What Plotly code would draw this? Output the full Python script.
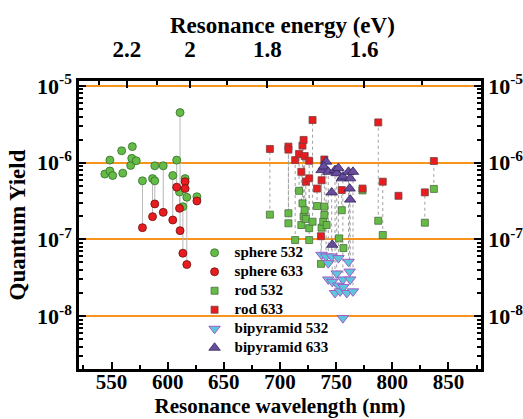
import plotly.graph_objects as go

# ---------------- data ----------------
# each particle: resonance wavelength (nm), QY at 532 nm, QY at 633 nm (None = not measured)
sphere_wl = [544, 548.5, 548.5, 551, 559, 560, 567, 568, 568.5, 572, 577.5, 586.5, 588.5, 588.5,
             596, 604.5, 608, 611, 610.5, 613.5, 615.5, 617, 626, 615.5]
sphere_532 = [7.1e-7, 1.08e-6, 7.8e-7, 6.8e-7, 1.43e-6, 7.3e-7, 9.2e-7, 1.14e-6, 1.62e-6, 1.06e-6,
              5.8e-7, 6.2e-7, 5.8e-7, 9.1e-7, 9.1e-7, 6.8e-7, 1.08e-6, 4.5e-6, 4.15e-7, 2.67e-7,
              6.2e-7, 3.54e-7, 3.6e-7, None]
sphere_633 = [None, None, None, None, None, None, None, None, None, None,
              1.42e-7, 1.98e-7, 2.9e-7, None, 2.25e-7, 1.79e-7, 4.8e-7, 1.3e-7, 2.54e-7, 6.6e-8,
              5.65e-7, 4.7e-8, 3.17e-7, 4.6e-7]

rod_wl = [691, 707.5, 707.5, 713.5, 717, 719, 720, 721, 722, 723, 726, 726, 729, 733, 736.5,
          737, 738.5, 739.5, 739.5, 741.5, 752.5, 755, 756.5, 773.5, 787.5, 791.5, 805.5, 829, 837]
rod_532 = [2.1e-7, 2.19e-7, 1.62e-7, 9.8e-8, 4.3e-7, 1.54e-7, 2.95e-7, 1.98e-7, 2.4e-7, 1.85e-7,
           9.8e-8, 1.4e-7, 1.7e-7, 2.72e-7, 4.8e-8, 1.42e-7, 1.7e-7, 2.67e-7, 2.08e-7, 1.54e-7,
           1.03e-7, 2.4e-7, 7.7e-8, 4.35e-7, 1.75e-7, 1.14e-7, None, 1.65e-7, 4.55e-7]
rod_633 = [1.51e-6, 1.62e-6, 1.48e-6, 1.08e-6, 1.3e-6, 7.6e-7, 1.67e-6, 1.98e-6, 1.22e-6, 5.65e-7,
           1.06e-6, 6.25e-7, 3.6e-6, 4.6e-7, 1.1e-7, 5.9e-7, None, 1.1e-6, None, None,
           None, 4.4e-7, None, 4.6e-7, 3.35e-6, 5.65e-7, 3.7e-7, 4.1e-7, 1.05e-6]

bipy_wl = [737, 741, 739, 743, 743, 746, 746.5, 749, 750.5, 752, 752, 753.5, 755, 756, 756,
           756.5, 759.5, 761, 762, 762.5, 762.5, 765]
bipy_532 = [6.3e-8, 6.0e-8, None, 4.9e-8, 3.0e-8, 6.0e-8, 2.8e-8, 2.0e-8, 3.6e-8, 5.7e-8, 2.5e-8,
            2.1e-8, None, 3.0e-8, 9.4e-9, 2.4e-8, 2.0e-8, 5.1e-8, 3.8e-8, 3.0e-8, None, 2.1e-8]
bipy_633 = [8.0e-7, 1.03e-6, 8.9e-7, 7.6e-7, None, 4.1e-7, 8.5e-8, 8.0e-7, 7.3e-7, 8.5e-7, None,
            None, 6.25e-7, 6.6e-7, None, None, None, 7.6e-7, 4.6e-7, 3.3e-7, 6.25e-7, 7.6e-7]

x_ticks = [550, 600, 650, 700, 750, 800, 850]
energy_ticks = [2.2, 2.0, 1.8, 1.6]
energy_labels = ["2.2", "2", "1.8", "1.6"]
energy_minor = [2.3, 2.1, 1.9, 1.7, 1.5]
y_ticks = [1e-8, 1e-7, 1e-6, 1e-5]
y_labels = ["10<sup>-8</sup>", "10<sup>-7</sup>", "10<sup>-6</sup>", "10<sup>-5</sup>"]

HC = 1239.84  # eV*nm

# ---------------- figure ----------------
def connectors(wl, a, b):
    xs, ys = [], []
    for w, p, q in zip(wl, a, b):
        if p is not None and q is not None:
            xs += [w, w, None]
            ys += [p, q, None]
    return xs, ys

fig = go.Figure()

for (wl, a, b), dash, col in [((sphere_wl, sphere_532, sphere_633), "solid", "#b8b8b8"),
                              ((rod_wl, rod_532, rod_633), "dot", "#a0a0a0"),
                              ((bipy_wl, bipy_532, bipy_633), "dot", "#a0a0a0")]:
    xs, ys = connectors(wl, a, b)
    fig.add_trace(go.Scatter(x=xs, y=ys, mode="lines", showlegend=False, hoverinfo="skip",
                             line=dict(color=col, width=1, dash=dash)))

green = "#66bb46"
green_edge = "#2f6e2a"
red = "#e81c1f"
red_edge = "#6a1010"

def pts(wl, vals):
    xs = [w for w, v in zip(wl, vals) if v is not None]
    ys = [v for v in vals if v is not None]
    return xs, ys

series = [
    ("sphere 532", sphere_wl, sphere_532, "circle", green, green_edge, 8, 0.8),
    ("sphere 633", sphere_wl, sphere_633, "circle", red, red_edge, 8, 0.8),
    ("rod 532", rod_wl, rod_532, "square", green, "#4a6e40", 7, 0.8),
    ("rod 633", rod_wl, rod_633, "square", red, "#7a4040", 7, 0.8),
    ("bipyramid 532", bipy_wl, bipy_532, "triangle-down", "#5cc6dc", "#a35bc6", 10, 1),
    ("bipyramid 633", bipy_wl, bipy_633, "triangle-up", "#6a4c9e", "#302458", 10, 0.8),
]
for name, wl, vals, sym, fc, ec, sz, lw in series:
    xs, ys = pts(wl, vals)
    fig.add_trace(go.Scatter(x=xs, y=ys, mode="markers",
                             name='<span style="font-size:15px">' + name + '</span>',
                             marker=dict(symbol=sym, color=fc, size=sz,
                                         line=dict(color=ec, width=lw))))

# invisible trace to activate secondary axes
fig.add_trace(go.Scatter(x=[None], y=[None], xaxis="x2", yaxis="y2", showlegend=False,
                         hoverinfo="skip"))

def bfont(size):
    return dict(family="Liberation Serif", size=size, color="black", weight="bold")

XR = [521, 879]
YR = [-8.69, -4.935]
minor_y = [k * 10.0 ** e for e in range(-9, -4) for k in range(2, 10)]

axis_common = dict(ticks="inside", ticklen=7, tickwidth=2, tickcolor="black", automargin=False,
                   showline=True, linewidth=2.5, linecolor="black", zeroline=False)

fig.update_layout(
    width=523, height=419,
    margin=dict(l=79, r=42, t=81, b=50),
    paper_bgcolor="white", plot_bgcolor="white",
    font=bfont(20),
    xaxis=dict(range=XR, tickvals=x_ticks, showgrid=False, tickfont=bfont(21),
               ticklabelstandoff=-8,
               minor=dict(dtick=25, tick0=525, ticks="inside", ticklen=4, tickwidth=1.5,
                          tickcolor="black"),
               title=dict(text="Resonance wavelength (nm)", font=bfont(21), standoff=2),
               **axis_common),
    xaxis2=dict(range=XR, overlaying="x", side="top", anchor="y", showgrid=False,
                tickvals=[HC / e for e in energy_ticks], ticktext=energy_labels, tickfont=bfont(23),
                ticklabelstandoff=12,
                minor=dict(tickmode="array", tickvals=[HC / e for e in energy_minor],
                           ticks="inside", ticklen=4, tickwidth=1.5, tickcolor="black"),
                **axis_common),
    yaxis=dict(type="log", range=YR, tickvals=y_ticks, ticktext=y_labels,
               tickfont=bfont(22),
               showgrid=True, gridcolor="#f7941d", gridwidth=1.5,
               minor=dict(tickmode="array", tickvals=minor_y, ticks="inside", ticklen=4,
                          tickwidth=1.5, tickcolor="black", showgrid=False),
               title=dict(text="Quantum Yield", font=bfont(23), standoff=5),
               **axis_common),
    yaxis2=dict(type="log", range=YR, overlaying="y", side="right", anchor="x",
                tickvals=y_ticks, ticktext=y_labels, showgrid=False,
                tickfont=bfont(22),
                minor=dict(tickmode="array", tickvals=minor_y, ticks="inside", ticklen=4,
                           tickwidth=1.5, tickcolor="black", showgrid=False),
                **axis_common),
    legend=dict(x=0.2875, y=0.454, xanchor="left", yanchor="top", bgcolor="rgba(0,0,0,0)",
                font=bfont(12), tracegroupgap=0, itemwidth=30),
    showlegend=True,
    annotations=[dict(text="Resonance energy (eV)", xref="paper", yref="paper",
                      x=0.505, y=1.194, xanchor="center", yanchor="middle",
                      showarrow=False, font=bfont(23))],
)

fig.write_html("out.html")
